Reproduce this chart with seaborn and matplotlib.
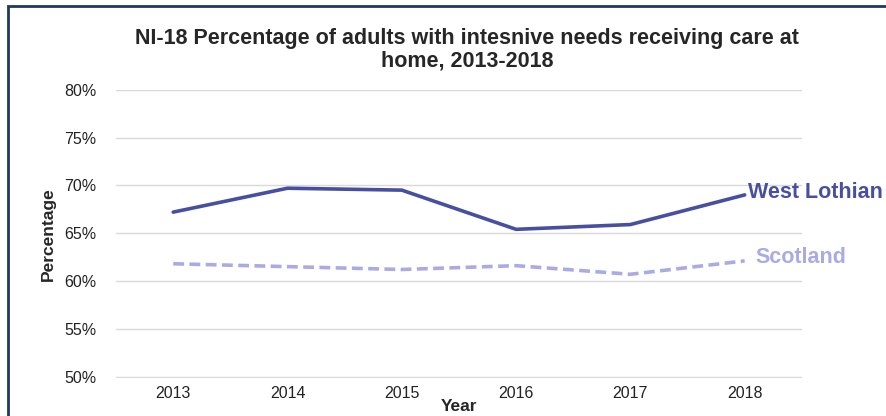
import pandas as pd
import matplotlib.pyplot as plt
import seaborn as sns
from matplotlib.patches import Rectangle

# Data
years = ['2013', '2014', '2015', '2016', '2017', '2018']
west_lothian = [67.2, 69.7, 69.5, 65.4, 65.9, 69.0]
scotland = [61.8, 61.5, 61.2, 61.6, 60.7, 62.1]

df = pd.DataFrame({
    'Year': years * 2,
    'Percentage': west_lothian + scotland,
    'Area': ['West Lothian'] * 6 + ['Scotland'] * 6,
})

sns.set_style('white')
plt.rcParams['font.family'] = ['Liberation Sans', 'DejaVu Sans']

c_wl = '#4750A0'
c_sc = '#ABABE3'

fig = plt.figure(figsize=(8.86, 4.16), dpi=100)
ax = fig.add_axes([0.131, 0.0913, 0.774, 0.693])

sns.lineplot(data=df, x='Year', y='Percentage', hue='Area', style='Area',
             palette={'West Lothian': c_wl, 'Scotland': c_sc},
             dashes={'West Lothian': '', 'Scotland': (3, 1.5)},
             linewidth=2.6, legend=False, ax=ax, sort=False)

ax.set_ylim(49.85, 80)
ax.set_xlim(-0.5, 5.5)
ax.set_yticks(range(50, 81, 5))
ax.set_yticklabels([f'{v}%' for v in range(50, 81, 5)])
ax.yaxis.grid(True, color='#D9D9D9', linewidth=1)
ax.set_axisbelow(True)
for s in ax.spines.values():
    s.set_visible(False)
ax.tick_params(axis='both', length=0, labelsize=11.5, colors='#222222', pad=6)
ax.tick_params(axis='y', pad=14)

ax.set_xlabel('Year', fontsize=12.5, fontweight='bold', labelpad=-2)
ax.set_ylabel('Percentage', fontsize=12.5, fontweight='bold', labelpad=6)

ax.text(5.03, west_lothian[-1] + 0.3, 'West Lothian', color=c_wl, fontsize=15.5,
        fontweight='bold', va='center', ha='left', clip_on=False)
ax.text(5.09, scotland[-1] + 0.4, 'Scotland', color=c_sc, fontsize=15.5,
        fontweight='bold', va='center', ha='left', clip_on=False)

fig.text(0.527, 0.88, 'NI-18 Percentage of adults with intesnive needs receiving care at\nhome, 2013-2018',
         ha='center', va='center', fontsize=15.5, fontweight='bold', linespacing=1.1)

# dark frame around the chart area
fig.patches.append(Rectangle((8 / 886, -0.1), 1.2, 1 - 6 / 416 + 0.1,
                             transform=fig.transFigure, fill=False,
                             edgecolor='#1F3864', linewidth=2))

plt.savefig('out.png', dpi=100)
